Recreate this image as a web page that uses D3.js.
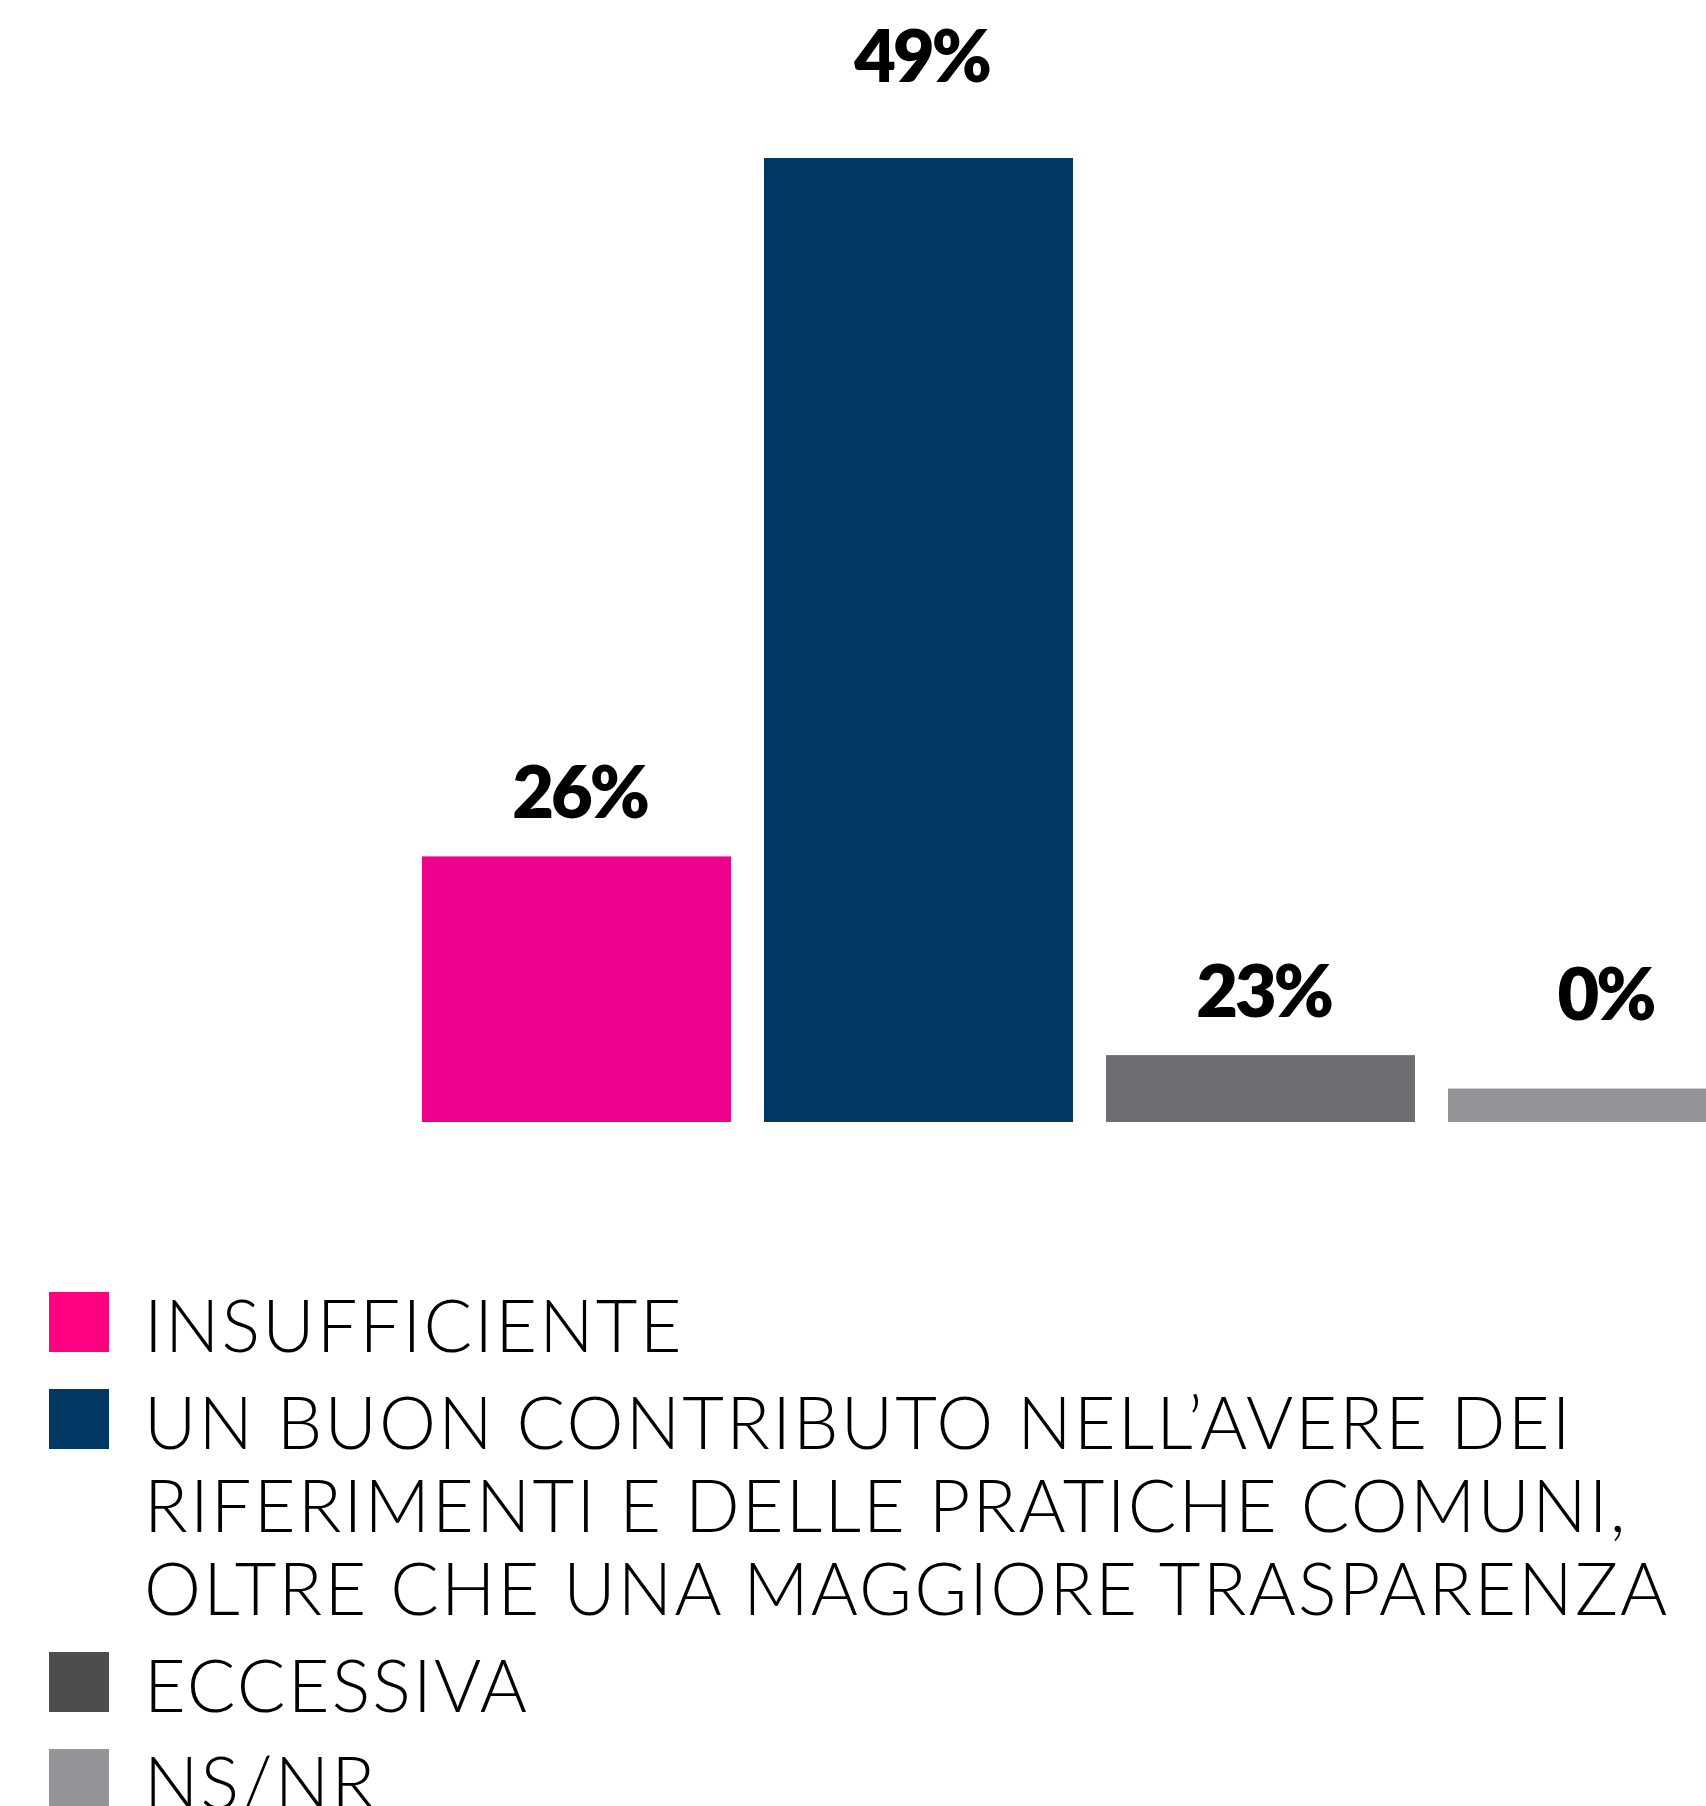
<!DOCTYPE html>
<html>
<head>
<meta charset="utf-8">
<script src="https://cdn.jsdelivr.net/npm/d3@7"></script>
<style>
    body { margin: 0; background: #fff; }
    svg { display: block; }
</style>
</head>
<body>
<div id="chart"></div>
<script>

// categories, in bar order
let categories = ["insufficiente", "contributo", "eccessiva", "nsnr"];

// percentages printed above the bars
let shares = [26, 49, 23, 0];

// bar lengths as drawn in the source, read against the 49% bar
// (the source does not draw them in proportion to the printed values)
let barHeights = [13.5, 49, 3.4, 1.7];

let legendLines = [
    ["INSUFFICIENTE"],
    ["UN BUON CONTRIBUTO NELL\u2019AVERE DEI", "RIFERIMENTI E DELLE PRATICHE COMUNI,", "OLTRE CHE UNA MAGGIORE TRASPARENZA"],
    ["ECCESSIVA"],
    ["NS/NR"]
];

let barColors = ["#EC008C", "#043864", "#6D6E71", "#939598"];
let keyColors = ["#FF0080", "#043864", "#4D4D4F", "#939598"];

let width = 1706,
    height = 1806;

let svg = d3.select("#chart").append("svg")
    .attr("width", width)
    .attr("height", height);

// x band: first bar starts at 422, step 342, bar 309 wide
let x = d3.scaleBand()
    .domain(categories)
    .range([422 - 16.5, 422 - 16.5 + 342 * 4])
    .paddingInner(33 / 342)
    .paddingOuter(16.5 / 342);

let y = d3.scaleLinear()
    .domain([0, 49])
    .range([1122, 158]);

let bars = svg.append("g").attr("class", "bars");

bars.selectAll("rect")
    .data(categories)
    .enter().append("rect")
    .attr("x", d => x(d))
    .attr("width", x.bandwidth())
    .attr("y", (d, i) => y(barHeights[i]))
    .attr("height", (d, i) => y(0) - y(barHeights[i]))
    .attr("fill", (d, i) => barColors[i]);

let tallest = d3.max(barHeights);

bars.selectAll("text")
    .data(categories)
    .enter().append("text")
    .attr("x", d => x(d) + x.bandwidth() / 2 + 3)
    .attr("y", function(d, i) {
        // the tallest bar's label sits in the top margin
        if (barHeights[i] === tallest) return y(tallest) - 76;
        return Math.min(y(barHeights[i]) - 38, 1020);
    })
    .attr("text-anchor", "middle")
    .attr("font-family", "Lato, sans-serif")
    .attr("font-weight", 800)
    .attr("font-size", 72)
    .attr("letter-spacing", -3)
    .attr("fill", "#000")
    .text((d, i) => shares[i] + "%");

// legend
let legend = svg.append("g").attr("class", "legend");
let rowTop = 1292;

legendLines.forEach(function(lines, i) {
    let row = legend.append("g")
        .attr("transform", "translate(49," + rowTop + ")");

    row.append("rect")
        .attr("width", 60)
        .attr("height", 60)
        .attr("fill", keyColors[i]);

    row.append("text")
        .attr("font-family", "Lato, sans-serif")
        .attr("font-weight", 300)
        .attr("font-size", 72)
        .attr("letter-spacing", 2.2)
        .attr("fill", "#000")
        .selectAll("tspan")
        .data(lines)
        .enter().append("tspan")
        .attr("x", 95)
        .attr("y", (d, j) => 60 + j * 83)
        .text(d => d);

    rowTop += 97 + (lines.length - 1) * 83;
});

</script>
</body>
</html>
